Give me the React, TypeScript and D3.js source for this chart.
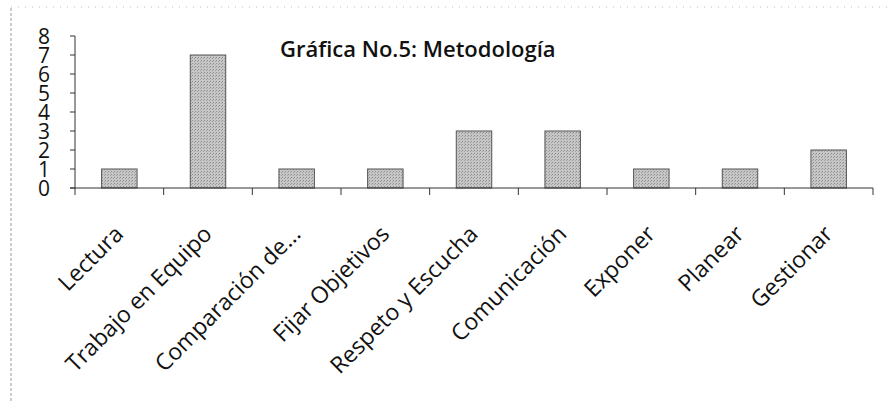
import * as React from 'react';
import * as d3 from 'd3';

const categories = ['Lectura', 'Trabajo en Equipo', 'Comparación de...', 'Fijar Objetivos', 'Respeto y Escucha', 'Comunicación', 'Exponer', 'Planear', 'Gestionar'];
const values = [1, 7, 1, 1, 3, 3, 1, 1, 2];
const yTicks = [0, 1, 2, 3, 4, 5, 6, 7, 8];
const title = 'Gráfica No.5: Metodología';

const width = 893;
const height = 401;
const margin = {top: 36, right: 20, bottom: 213, left: 75};

export default function App() {
  const ref = React.useRef<SVGSVGElement>(null);

  React.useEffect(() => {
    const svg = d3.select(ref.current);
    svg.selectAll('*').remove();

    // stippled grey like the scan
    const pat = svg.append('defs').append('pattern')
      .attr('id', 'stip').attr('width', 3).attr('height', 3)
      .attr('patternUnits', 'userSpaceOnUse');
    pat.append('rect').attr('width', 3).attr('height', 3).attr('fill', '#c6c6c6');
    pat.append('rect').attr('x', 0).attr('y', 0).attr('width', 1).attr('height', 1).attr('fill', '#8e8e8e');
    pat.append('rect').attr('x', 2).attr('y', 1).attr('width', 1).attr('height', 1).attr('fill', '#a0a0a0');

    const x = d3.scaleBand<string>()
      .domain(categories)
      .range([margin.left, width - margin.right])
      .paddingInner(0.6)
      .paddingOuter(0.3);
    const y = d3.scaleLinear()
      .domain([0, 8])
      .range([height - margin.bottom, margin.top]);

    // scan frame
    svg.append('line')
      .attr('x1', 11).attr('x2', 11).attr('y1', 8).attr('y2', height)
      .attr('stroke', '#999').attr('stroke-dasharray', '3,2').attr('stroke-width', 1);
    svg.append('line')
      .attr('x1', 11).attr('x2', width).attr('y1', 7).attr('y2', 7)
      .attr('stroke', '#bbb').attr('stroke-dasharray', '1,6').attr('stroke-width', 1);

    svg.append('g')
      .selectAll('rect')
      .data(values)
      .join('rect')
      .attr('x', (d, i) => x(categories[i])!)
      .attr('y', d => y(d))
      .attr('width', x.bandwidth())
      .attr('height', d => y(0) - y(d))
      .attr('fill', 'url(#stip)')
      .attr('stroke', '#555')
      .attr('stroke-width', 1);

    // y axis
    const yAxis = svg.append('g').attr('transform', `translate(${margin.left},0)`);
    yAxis.append('line')
      .attr('x1', 0).attr('x2', 0).attr('y1', y(8)).attr('y2', y(0))
      .attr('stroke', '#333');
    yAxis.selectAll('line.tick')
      .data(yTicks)
      .join('line')
      .attr('class', 'tick')
      .attr('x1', -5).attr('x2', 0)
      .attr('y1', d => y(d)).attr('y2', d => y(d))
      .attr('stroke', '#333');
    yAxis.selectAll('text')
      .data(yTicks)
      .join('text')
      .attr('x', -25)
      .attr('y', d => y(d))
      .attr('dy', '0.36em')
      .attr('text-anchor', 'end')
      .attr('font-family', 'Open Sans')
      .attr('font-size', 21)
      .attr('fill', '#111')
      .text(d => d);

    // x axis
    const xAxis = svg.append('g').attr('transform', `translate(0,${y(0)})`);
    xAxis.append('line')
      .attr('x1', margin.left - 5).attr('x2', width - margin.right)
      .attr('y1', 0).attr('y2', 0)
      .attr('stroke', '#333');
    const step = x.step();
    xAxis.selectAll('line.tick')
      .data(d3.range(categories.length + 1))
      .join('line')
      .attr('class', 'tick')
      .attr('x1', i => margin.left + i * step)
      .attr('x2', i => margin.left + i * step)
      .attr('y1', 0).attr('y2', 7)
      .attr('stroke', '#333');
    xAxis.selectAll('text')
      .data(categories)
      .join('text')
      .attr('transform', d => `translate(${x(d)! + x.bandwidth() / 2 - 6},${36}) rotate(-45)`)
      .attr('text-anchor', 'end')
      .attr('dy', '0.7em')
      .attr('font-family', 'Open Sans')
      .attr('font-size', 23)
      .attr('fill', '#111')
      .text(d => d);

    svg.append('text')
      .attr('x', 280)
      .attr('y', 57)
      .attr('font-family', 'Open Sans')
      .attr('font-weight', 600)
      .attr('font-size', 22)
      .attr('fill', '#111')
      .text(title);
  }, []);

  return (
    <svg ref={ref} width={width} height={height}
      style={{position: 'absolute', left: 0, top: 0, background: '#fff'}} />
  );
}
